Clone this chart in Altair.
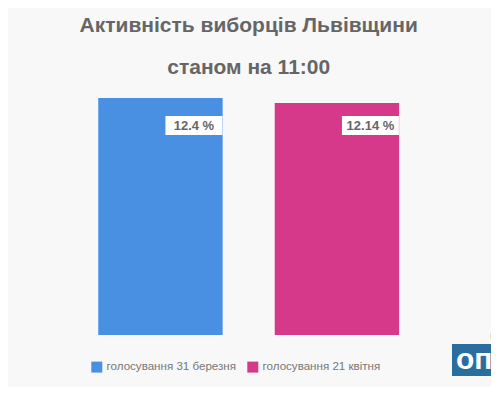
import altair as alt
import pandas as pd

categories = ["голосування 31 березня", "голосування 21 квітня"]
values = [12.4, 12.14]
labels = ["12.4 %", "12.14 %"]
colors = ["#4a90e2", "#d6388a"]

df = pd.DataFrame({"cat": categories, "val": values, "label": labels})

FONT = "Liberation Sans"
GRAY = "#666666"

x_enc = alt.X("cat:N", sort=categories, axis=None,
              scale=alt.Scale(paddingInner=0.295, paddingOuter=0.5))

bars = alt.Chart(df).mark_bar().encode(
    x=x_enc,
    y=alt.Y("val:Q", axis=None, scale=alt.Scale(domain=[0, 12.4], nice=False, zero=True)),
    color=alt.Color(
        "cat:N",
        scale=alt.Scale(domain=categories, range=colors),
        legend=alt.Legend(
            title=None, orient="none", legendX=81, legendY=263,
            direction="horizontal", symbolType="square", symbolSize=121,
            symbolStrokeWidth=0, labelFontSize=11.6, labelColor="#777777",
            labelFont=FONT, columnPadding=10, labelOffset=4,
        ),
    ),
)

boxes = alt.Chart(df).mark_bar(color="white", width=57, xOffset=33.5).encode(
    x=x_enc,
    y=alt.value(18),
    y2=alt.value(37),
)

texts = alt.Chart(df).mark_text(
    xOffset=33.5, font=FONT, fontSize=13, fontWeight="bold", color=GRAY,
    baseline="middle", align="center",
).encode(
    x=x_enc,
    y=alt.value(27.5),
    text="label:N",
)

logo_df = pd.DataFrame({"t": ["опо"], "s": ["п"]})
logo_rect = alt.Chart(logo_df).mark_rect(color="#2a6d9f").encode(
    x=alt.value(442), x2=alt.value(490), y=alt.value(246), y2=alt.value(278)
)
logo_text = alt.Chart(logo_df).mark_text(
    font=FONT, fontSize=30, fontWeight="bold", color="white", align="left", baseline="middle"
).encode(x=alt.value(446), y=alt.value(262), text="t:N")
logo_small = alt.Chart(logo_df).mark_text(
    font=FONT, fontSize=11, color="#999999", align="left", baseline="middle"
).encode(x=alt.value(480), y=alt.value(238), text="s:N")

chart = alt.layer(bars, boxes, texts, logo_rect, logo_text, logo_small).properties(
    width=477.4,
    height=237,
    padding={"left": 2, "top": 90, "right": 4, "bottom": 52},
    autosize=alt.AutoSizeParams(type="none"),
    background="#f8f8f8",
    title=alt.TitleParams(
        text="Активність виборців Львівщини",
        subtitle="станом на 11:00",
        font=FONT, subtitleFont=FONT,
        fontSize=21, subtitleFontSize=21,
        fontWeight="bold", subtitleFontWeight="bold",
        color=GRAY, subtitleColor=GRAY,
        anchor="middle", offset=20, subtitlePadding=21,
    ),
).configure_view(stroke=None)

chart.save("out.html", embed_options={"renderer": "svg", "actions": False})
